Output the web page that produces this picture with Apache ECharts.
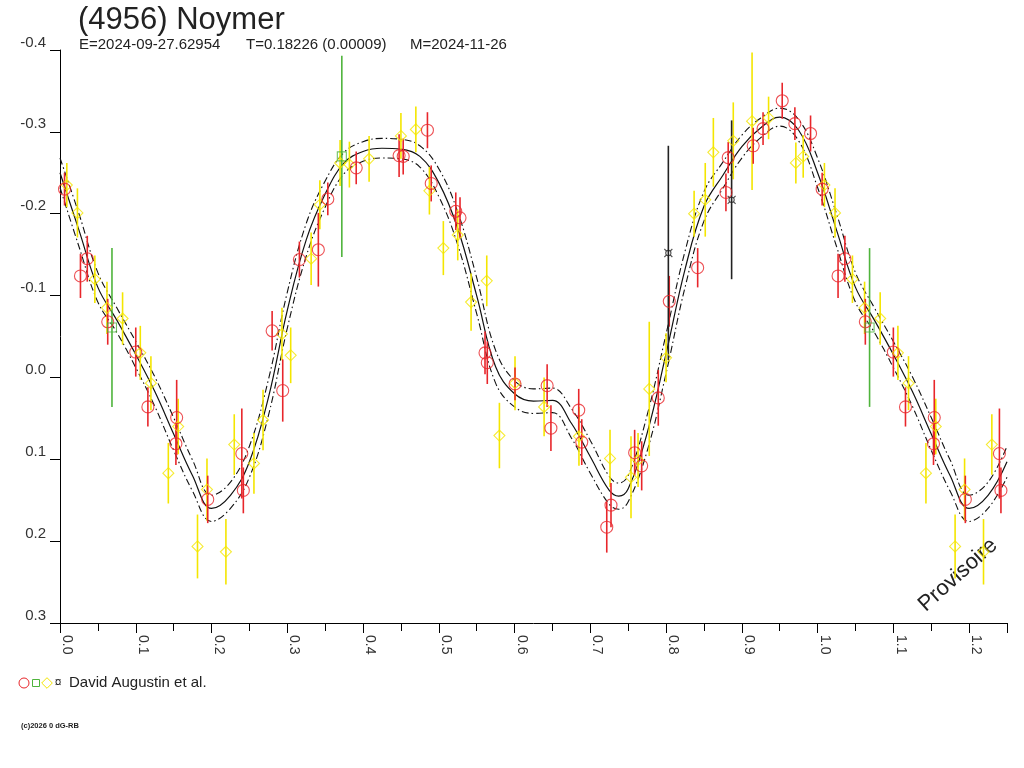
<!DOCTYPE html>
<html><head><meta charset="utf-8">
<script src="https://cdn.jsdelivr.net/npm/echarts@6/dist/echarts.min.js"></script>
<style>html,body{margin:0;padding:0;background:#fff}#c{width:1024px;height:768px}</style>
</head><body><div id="c"></div>
<script>
const FONT = '"Liberation Sans", Arial, sans-serif';
const TITLE = '(4956) Noymer';
const SUB_E = 'E=2024-09-27.62954';
const SUB_T = 'T=0.18226 (0.00009)';
const SUB_M = 'M=2024-11-26';
const LEGEND_TEXT = 'David Augustin et al.';
const COPYRIGHT = '(c)2026 0 dG-RB';
const STAMP = 'Provisoire';

const xTickLabels = ['0.0','0.1','0.2','0.3','0.4','0.5','0.6','0.7','0.8','0.9','1.0','1.1','1.2'];
const yTickLabels = ['-0.4','-0.3','-0.2','-0.1','0.0','0.1','0.2','0.3'];

// red circles
const redPhase = [0.006,0.027,0.036,0.063,0.100,0.116,0.153,0.154,0.195,0.240,0.242,0.280,0.294,0.316,0.341,0.3535,0.391,0.4476,0.453,0.485,0.490,0.5224,0.528,0.561,0.564,0.6006,0.643,0.648,0.6847,0.6887,0.7217,0.7273,0.7585,0.7678,0.7897,0.8042,0.8417,0.879,0.882,0.915,0.928,0.9533,0.970,0.9907];
const redMag   = [-0.230,-0.124,-0.145,-0.068,-0.031,0.036,0.081,0.049,0.149,0.093,0.138,-0.057,0.016,-0.144,-0.156,-0.218,-0.256,-0.271,-0.270,-0.302,-0.237,-0.203,-0.195,-0.030,-0.018,0.008,0.010,0.062,0.040,0.079,0.183,0.156,0.092,0.108,0.025,-0.093,-0.134,-0.226,-0.2685,-0.283,-0.304,-0.338,-0.310,-0.298];
const redErr   = [0.020,0.027,0.028,0.028,0.030,0.024,0.026,0.046,0.029,0.055,0.028,0.024,0.038,0.022,0.045,0.020,0.020,0.026,0.022,0.022,0.022,0.023,0.025,0.026,0.026,0.020,0.026,0.028,0.026,0.028,0.031,0.027,0.028,0.030,0.034,0.031,0.024,0.023,0.019,0.022,0.020,0.022,0.020,0.022];

// yellow diamonds
const yelPhase = [0.009,0.023,0.046,0.062,0.0826,0.106,0.120,0.143,0.156,0.1815,0.194,0.219,0.230,0.256,0.268,0.293,0.3045,0.3315,0.343,0.3697,0.382,0.408,0.450,0.4697,0.4876,0.506,0.525,0.5426,0.5633,0.580,0.6006,0.639,0.685,0.726,0.7537,0.763,0.7778,0.800,0.837,0.8517,0.8624,0.8887,0.9135,0.9353,0.9713,0.981];
const yelMag   = [-0.235,-0.201,-0.120,-0.085,-0.072,-0.030,0.007,0.117,0.060,0.2065,0.137,0.213,0.082,0.105,0.052,-0.053,-0.027,-0.145,-0.211,-0.262,-0.260,-0.267,-0.295,-0.303,-0.228,-0.158,-0.174,-0.092,-0.118,0.071,0.007,0.036,0.072,0.099,0.122,0.101,0.014,-0.024,-0.200,-0.217,-0.275,-0.289,-0.313,-0.317,-0.262,-0.270];
const yelErr   = [0.027,0.030,0.029,0.032,0.032,0.033,0.033,0.037,0.034,0.039,0.038,0.040,0.037,0.037,0.037,0.032,0.034,0.032,0.030,0.028,0.028,0.028,0.028,0.028,0.029,0.033,0.031,0.035,0.031,0.040,0.033,0.036,0.036,0.035,0.050,0.033,0.082,0.030,0.028,0.045,0.042,0.047,0.084,0.026,0.025,0.026];

// green squares
const grnPhase = [0.0686,0.372];
const grnMag   = [-0.061,-0.270];
const grnErr   = [0.097,0.123];

// black ¤
const blkPhase = [0.803,0.8865];
const blkMag   = [-0.152,-0.217];
const blkErr   = [0.131,0.097];

// fitted curve and its uncertainty half-width
const curvePhase = [0,0.025,0.05,0.075,0.1,0.125,0.15,0.175,0.2,0.225,0.25,0.275,0.3,0.325,0.35,0.375,0.4,0.425,0.45,0.475,0.5,0.525,0.55,0.575,0.6,0.625,0.65,0.675,0.7,0.725,0.7375,0.75,0.775,0.8,0.825,0.85,0.875,0.9,0.925,0.95,0.975,1.0];
const curveMag   = [-0.250,-0.180,-0.110,-0.070,-0.028,0.017,0.069,0.120,0.160,0.144,0.103,0.025,-0.082,-0.168,-0.224,-0.262,-0.276,-0.280,-0.279,-0.270,-0.238,-0.182,-0.100,-0.013,0.020,0.029,0.028,0.056,0.097,0.138,0.145,0.136,0.068,-0.029,-0.132,-0.209,-0.247,-0.282,-0.305,-0.318,-0.302,-0.250];
const curveHalf  = [0.018,0.020,0.018,0.015,0.016,0.018,0.020,0.019,0.016,0.016,0.019,0.022,0.022,0.020,0.016,0.013,0.012,0.012,0.012,0.013,0.017,0.020,0.022,0.020,0.016,0.015,0.015,0.018,0.020,0.017,0.016,0.016,0.022,0.024,0.022,0.018,0.016,0.014,0.012,0.011,0.013,0.018];

const RED = '#e8262b', YEL = '#f4e600', GRN = '#4fb43c', BLK = '#222222';
const X_MAX = 1.25, REPEAT_TO = X_MAX - 1;

// phase-folded: observations with phase <= 0.25 are repeated one cycle later
function folded(ph, mag, err) {
  const out = [];
  ph.forEach((p, i) => out.push([p, mag[i], err[i]]));
  ph.forEach((p, i) => { if (p <= REPEAT_TO) out.push([p + 1, mag[i], err[i]]); });
  return out;
}
function foldedCurve(offsetSign) {
  const out = [];
  curvePhase.forEach((p, i) => out.push([p, curveMag[i] + offsetSign * curveHalf[i]]));
  curvePhase.forEach((p, i) => { if (p > 0 && p <= REPEAT_TO) out.push([p + 1, curveMag[i] + offsetSign * curveHalf[i]]); });
  return out;
}

const redData = folded(redPhase, redMag, redErr);
const yelData = folded(yelPhase, yelMag, yelErr);
const grnData = folded(grnPhase, grnMag, grnErr);
const blkData = folded(blkPhase, blkMag, blkErr);

function errRender(params, api) {
  const x = api.value(0), y = api.value(1), e = api.value(2);
  const a = api.coord([x, y - e]), b = api.coord([x, y + e]);
  return { type: 'line', shape: { x1: a[0], y1: a[1], x2: b[0], y2: b[1] },
           style: { stroke: api.visual('color'), lineWidth: 1.6 } };
}
function errSeries(data, color) {
  return { type: 'custom', renderItem: errRender, data: data, itemStyle: { color: color },
           encode: { x: 0, y: 1 }, z: 3, silent: true, clip: true };
}
function markSeries(data, color, symbol, size) {
  return { type: 'scatter', data: data.map(d => [d[0], d[1]]), symbol: symbol, symbolSize: size,
           itemStyle: { color: 'rgba(0,0,0,0)', borderColor: color, borderWidth: 1.1 }, z: 4, silent: true };
}
const CURRENCY = 'path://M1,1 L3.2,3.2 M9,1 L6.8,3.2 M1,9 L3.2,6.8 M9,9 L6.8,6.8 M5,2.4 A2.6,2.6 0 1,1 4.99,2.4 Z';

const chart = echarts.init(document.getElementById('c'), null, { renderer: 'canvas' });
chart.setOption({
  backgroundColor: '#fff',
  animation: false,
  grid: { left: 60, right: 17, top: 50, bottom: 145, containLabel: false },
  xAxis: [{
    type: 'value', min: 0, max: X_MAX, interval: 0.1, position: 'bottom',
    axisLine: { show: true, onZero: false, lineStyle: { color: '#000', width: 1 } },
    axisTick: { show: true, length: 10, lineStyle: { color: '#000', width: 1 } },
    splitLine: { show: false },
    axisLabel: {
      rotate: -90, margin: 12, verticalAlign: 'bottom', fontSize: 14, color: '#333', fontFamily: FONT,
      formatter: v => { const i = Math.round(v * 10); return (Math.abs(v - i / 10) < 1e-6 && i < xTickLabels.length) ? xTickLabels[i] : ''; }
    }
  }, {
    type: 'value', min: 0, max: X_MAX, interval: 0.05, position: 'bottom',
    axisLine: { show: false, onZero: false }, axisTick: { show: true, length: 8, lineStyle: { color: '#000', width: 1 } },
    axisLabel: { show: false }, splitLine: { show: false }
  }],
  yAxis: {
    type: 'value', inverse: true, min: -0.4, max: 0.3, interval: 0.1,
    axisLine: { show: true, onZero: false, lineStyle: { color: '#000', width: 1 } },
    axisTick: { show: true, length: 10, lineStyle: { color: '#000', width: 1 } },
    splitLine: { show: false },
    axisLabel: {
      margin: 14, verticalAlign: 'bottom', fontSize: 15, color: '#333', fontFamily: FONT,
      formatter: v => { const i = Math.round((v + 0.4) * 10); return yTickLabels[i] !== undefined ? yTickLabels[i] : ''; }
    }
  },
  series: [
    { type: 'line', data: foldedCurve(0), showSymbol: false, smooth: 0.4, silent: true, z: 2,
      lineStyle: { color: '#111', width: 1.2 } },
    { type: 'line', data: foldedCurve(-1), showSymbol: false, smooth: 0.4, silent: true, z: 2,
      lineStyle: { color: '#111', width: 1.1, type: [7, 3, 1.5, 3] } },
    { type: 'line', data: foldedCurve(1), showSymbol: false, smooth: 0.4, silent: true, z: 2,
      lineStyle: { color: '#111', width: 1.1, type: [7, 3, 1.5, 3] } },
    errSeries(yelData, YEL), errSeries(redData, RED), errSeries(grnData, GRN), errSeries(blkData, BLK),
    markSeries(yelData, YEL, 'diamond', 11),
    markSeries(redData, RED, 'circle', 12),
    markSeries(grnData, GRN, 'rect', 9),
    markSeries(blkData, BLK, CURRENCY, 8)
  ],
  graphic: [
    { type: 'text', left: 78, top: 5, style: { text: TITLE, font: '31px ' + FONT, fill: '#222' } },
    { type: 'text', x: 79, y: 45, style: { text: SUB_E, font: '15px ' + FONT, fill: '#222', textVerticalAlign: 'middle' } },
    { type: 'text', x: 246, y: 45, style: { text: SUB_T, font: '15px ' + FONT, fill: '#222', textVerticalAlign: 'middle' } },
    { type: 'text', x: 410, y: 45, style: { text: SUB_M, font: '15px ' + FONT, fill: '#222', textVerticalAlign: 'middle' } },
    { type: 'circle', shape: { cx: 24, cy: 683, r: 5 }, style: { fill: 'none', stroke: RED, lineWidth: 1 } },
    { type: 'rect', shape: { x: 32.5, y: 679.5, width: 7, height: 7 }, style: { fill: 'none', stroke: GRN, lineWidth: 1 } },
    { type: 'polygon', shape: { points: [[47, 677.7], [52.3, 683], [47, 688.3], [41.7, 683]] }, style: { fill: 'none', stroke: YEL, lineWidth: 1 } },
    { type: 'text', x: 58, y: 683, style: { text: '¤', font: '12px ' + FONT, fill: '#222', textAlign: 'center', textVerticalAlign: 'middle' } },
    { type: 'text', x: 69, y: 683, style: { text: LEGEND_TEXT, font: '15px ' + FONT, fill: '#222', textVerticalAlign: 'middle' } },
    { type: 'text', x: 21, y: 726, style: { text: COPYRIGHT, font: 'bold 7.5px ' + FONT, fill: '#222', textVerticalAlign: 'middle' } },
    { type: 'text', x: 958, y: 575, rotation: 42 * Math.PI / 180, originX: 0, originY: 0,
      style: { text: STAMP, font: '22px ' + FONT, fill: '#222', textAlign: 'center', textVerticalAlign: 'middle' } }
  ]
});
</script></body></html>
